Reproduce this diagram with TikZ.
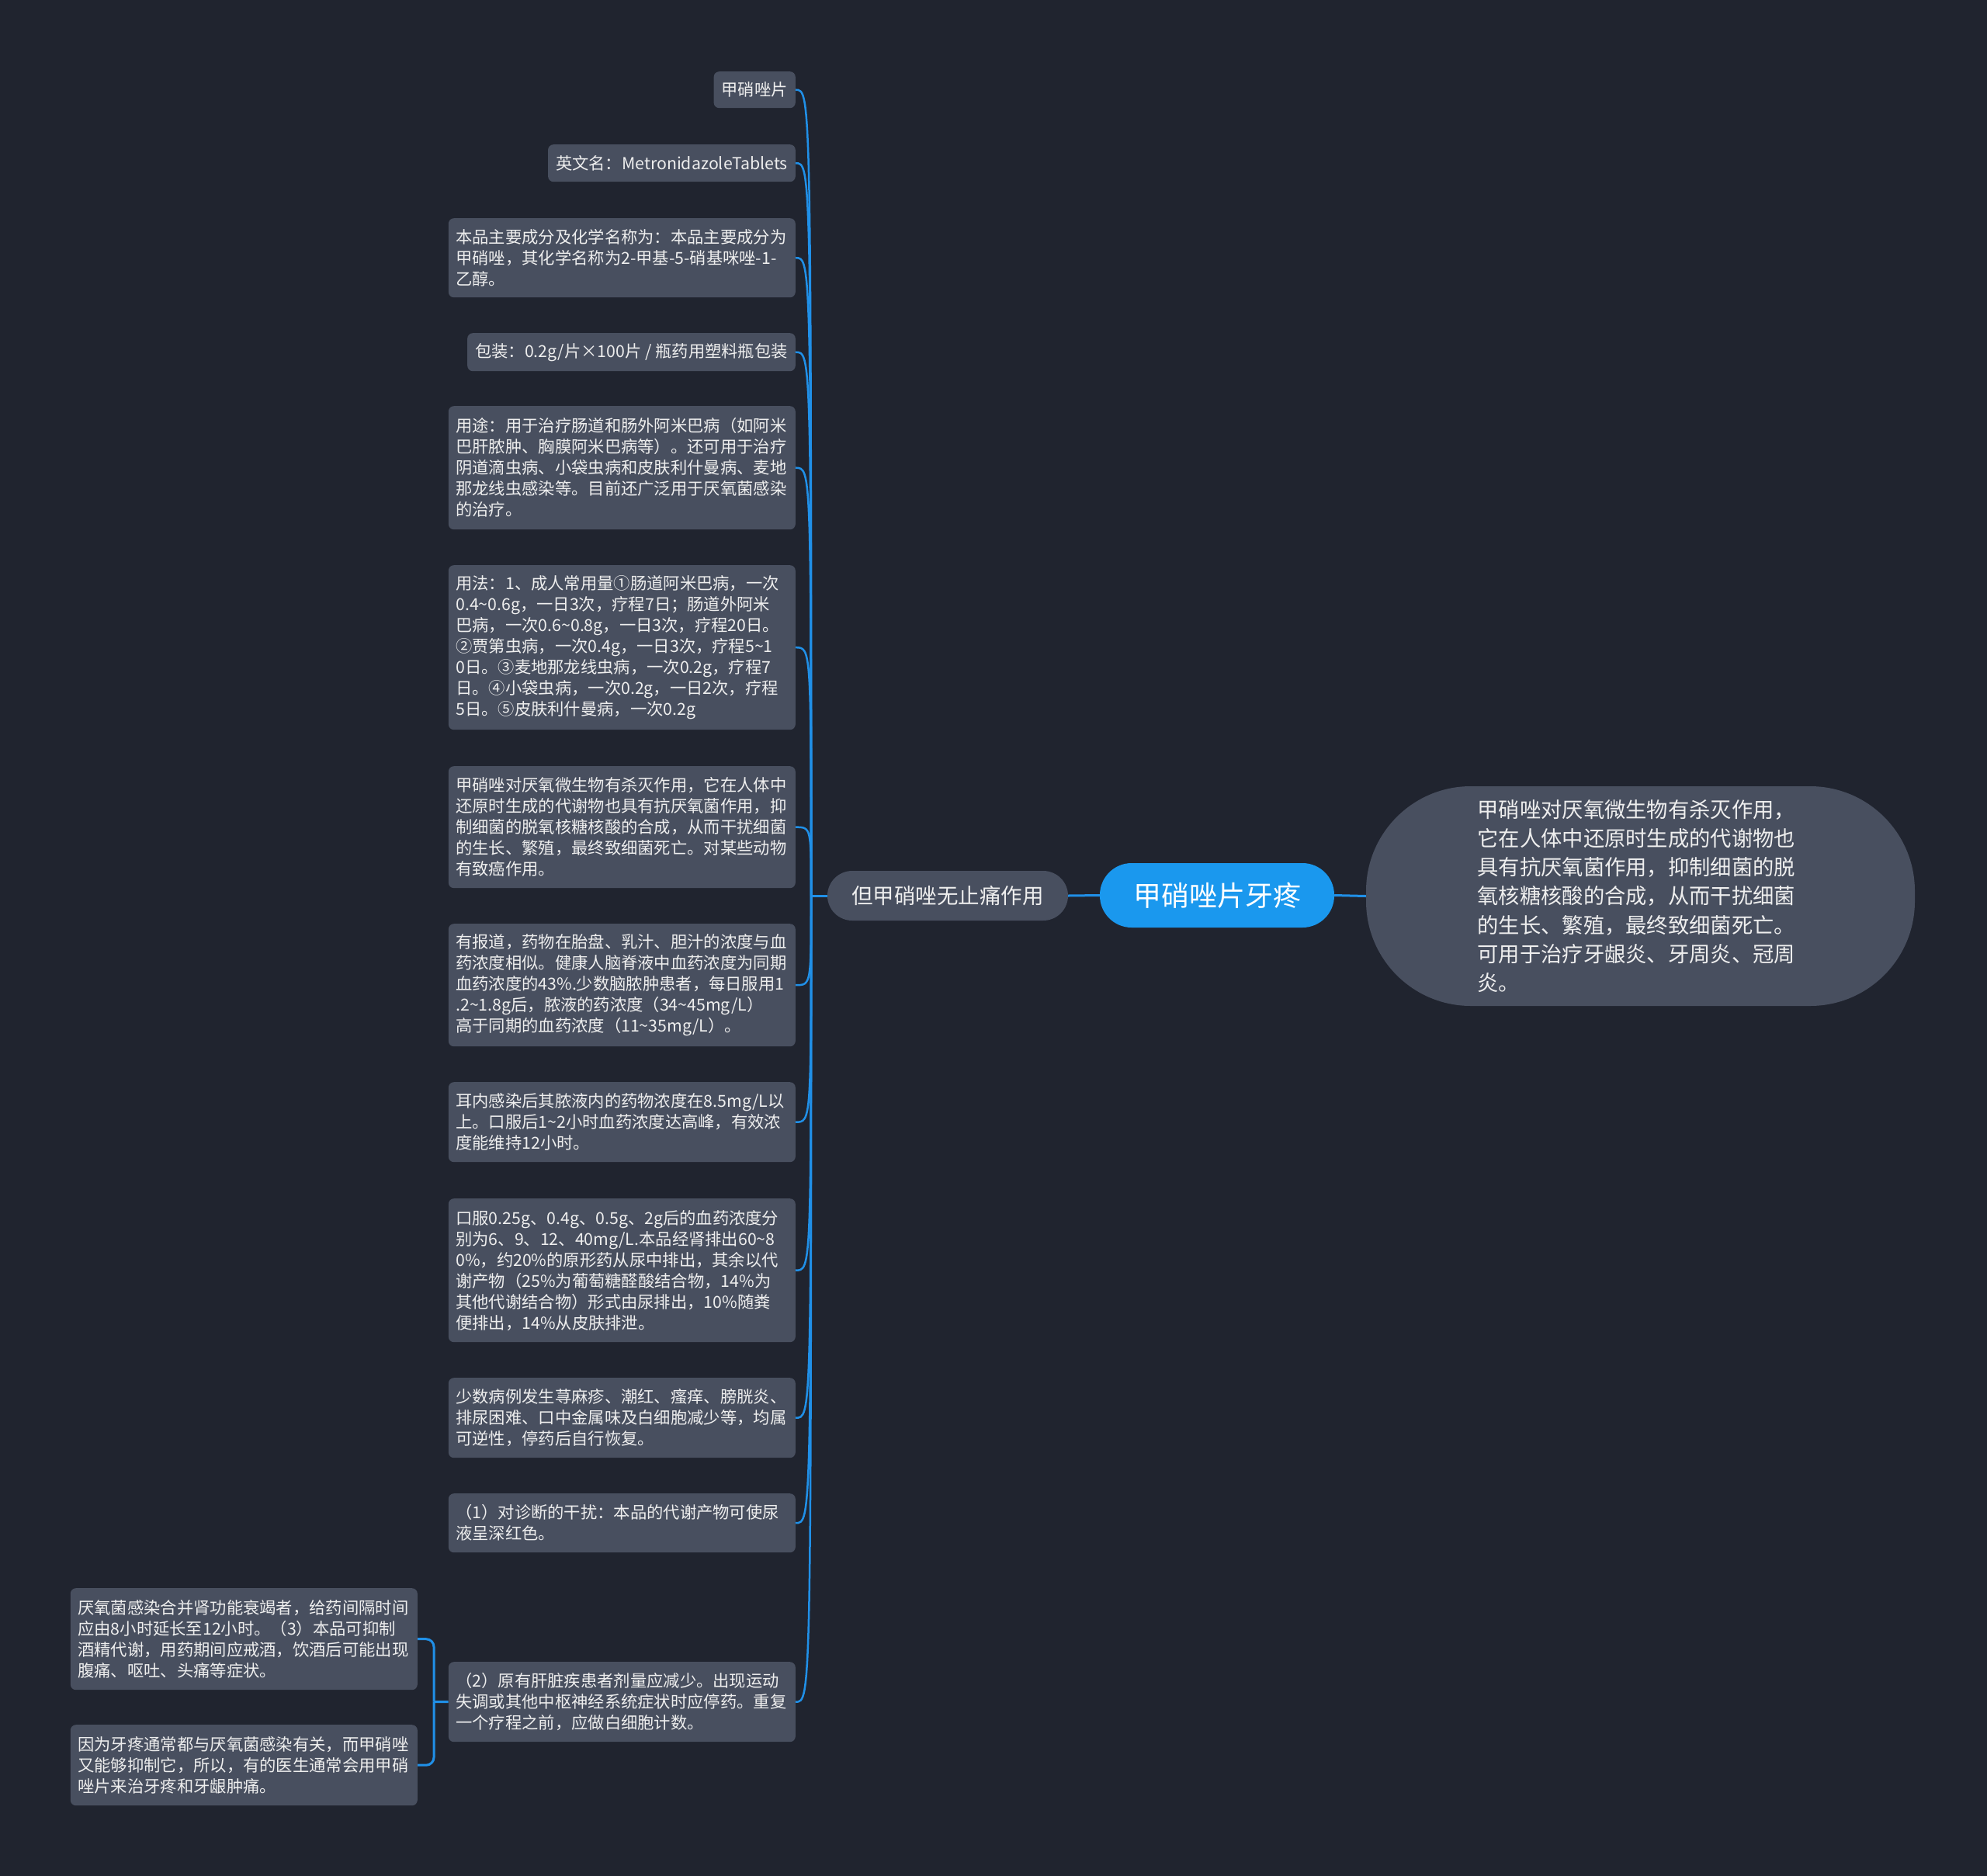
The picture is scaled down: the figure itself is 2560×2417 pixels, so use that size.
\documentclass[tikz,border=0pt]{standalone}
\usepackage{fontspec}
\setmainfont{Noto Sans CJK SC}
\definecolor{bg}{HTML}{20242F}
\definecolor{boxc}{HTML}{484F5F}
\definecolor{rootc}{HTML}{1A98EE}
\definecolor{linec}{HTML}{2090E8}
\definecolor{txt}{HTML}{EEEEEE}
\newcommand{\tld}{\textasciitilde{}}
\tikzset{
  leaf/.style={fill=boxc, rounded corners=7pt, text=txt, font=\fontsize{21.3pt}{27pt}\selectfont, align=left, inner xsep=10pt, inner ysep=0pt, anchor=north east},
  wide/.style={text width=428pt, inner xsep=9.5pt},
  conn/.style={draw=linec, line width=3pt},
  sconn/.style={draw=linec, line width=2.5pt},
}
\begin{document}
\begin{tikzpicture}[x=1pt,y=-1pt]
\fill[bg] (0,0) rectangle (2560,2417);
\useasboundingbox (0,0) rectangle (2560,2417);

\node[fill=rootc, rounded corners=41pt, text=white, font=\fontsize{36pt}{42pt}\selectfont, minimum width=302pt, minimum height=83pt, inner sep=0pt] (root) at (1568,1153.5) {甲硝唑片牙疼};
\node[fill=boxc, rounded corners=32pt, text=txt, font=\fontsize{27.5pt}{33pt}\selectfont, minimum width=310pt, minimum height=64pt, inner sep=0pt] (mid) at (1221,1154) {但甲硝唑无止痛作用};
\node[fill=boxc, rounded corners=135pt, text=txt, font=\fontsize{27.3pt}{37.3pt}\selectfont, text width=420pt, align=left, minimum width=707pt, minimum height=283pt, inner sep=0pt] (big) at (2113.5,1154.5) {甲硝唑对厌氧微生物有杀灭作用，\\它在人体中还原时生成的代谢物也\\具有抗厌氧菌作用，抑制细菌的脱\\氧核糖核酸的合成，从而干扰细菌\\的生长、繁殖，最终致细菌死亡。\\可用于治疗牙龈炎、牙周炎、冠周\\炎。};

\node[leaf, minimum height=47pt] (n1) at (1025,92) {甲硝唑片};
\node[leaf, minimum height=48pt] (n2) at (1025,186) {英文名：MetronidazoleTablets};
\node[leaf, wide, minimum height=102pt] (n3) at (1025,281) {本品主要成分及化学名称为：本品主要成分为\\甲硝唑，其化学名称为2-甲基-5-硝基咪唑-1-\\乙醇。};
\node[leaf, minimum height=49pt] (n4) at (1025,429) {包装：0.2g/片×100片 / 瓶药用塑料瓶包装};
\node[leaf, wide, minimum height=159pt] (n5) at (1025,523) {用途：用于治疗肠道和肠外阿米巴病（如阿米\\巴肝脓肿、胸膜阿米巴病等）。还可用于治疗\\阴道滴虫病、小袋虫病和皮肤利什曼病、麦地\\那龙线虫感染等。目前还广泛用于厌氧菌感染\\的治疗。};
\node[leaf, wide, minimum height=212pt] (n6) at (1025,728) {用法：1、成人常用量①肠道阿米巴病，一次\\0.4\tld 0.6g，一日3次，疗程7日；肠道外阿米\\巴病，一次0.6\tld 0.8g，一日3次，疗程20日。\\②贾第虫病，一次0.4g，一日3次，疗程5\tld 1\\0日。③麦地那龙线虫病，一次0.2g，疗程7\\日。④小袋虫病，一次0.2g，一日2次，疗程\\5日。⑤皮肤利什曼病，一次0.2g};
\node[leaf, wide, minimum height=157pt] (n7) at (1025,987) {甲硝唑对厌氧微生物有杀灭作用，它在人体中\\还原时生成的代谢物也具有抗厌氧菌作用，抑\\制细菌的脱氧核糖核酸的合成，从而干扰细菌\\的生长、繁殖，最终致细菌死亡。对某些动物\\有致癌作用。};
\node[leaf, wide, minimum height=158pt] (n8) at (1025,1190) {有报道，药物在胎盘、乳汁、胆汁的浓度与血\\药浓度相似。健康人脑脊液中血药浓度为同期\\血药浓度的43\%.少数脑脓肿患者，每日服用1\\.2\tld 1.8g后，脓液的药浓度（34\tld 45mg/L）\\高于同期的血药浓度（11\tld 35mg/L）。};
\node[leaf, wide, minimum height=103pt] (n9) at (1025,1394) {耳内感染后其脓液内的药物浓度在8.5mg/L以\\上。口服后1\tld 2小时血药浓度达高峰，有效浓\\度能维持12小时。};
\node[leaf, wide, minimum height=185pt] (n10) at (1025,1544) {口服0.25g、0.4g、0.5g、2g后的血药浓度分\\别为6、9、12、40mg/L.本品经肾排出60\tld 8\\0\%，约20\%的原形药从尿中排出，其余以代\\谢产物（25\%为葡萄糖醛酸结合物，14\%为\\其他代谢结合物）形式由尿排出，10\%随粪\\便排出，14\%从皮肤排泄。};
\node[leaf, wide, minimum height=103pt] (n11) at (1025,1775) {少数病例发生荨麻疹、潮红、瘙痒、膀胱炎、\\排尿困难、口中金属味及白细胞减少等，均属\\可逆性，停药后自行恢复。};
\node[leaf, wide, minimum height=76pt] (n12) at (1025,1924) {（1）对诊断的干扰：本品的代谢产物可使尿\\液呈深红色。};
\node[leaf, wide, minimum height=103pt] (n13) at (1025,2141) {（2）原有肝脏疾患者剂量应减少。出现运动\\失调或其他中枢神经系统症状时应停药。重复\\一个疗程之前，应做白细胞计数。};
\node[leaf, wide, minimum height=131pt] (n14) at (538,2046) {厌氧菌感染合并肾功能衰竭者，给药间隔时间\\应由8小时延长至12小时。（3）本品可抑制\\酒精代谢，用药期间应戒酒，饮酒后可能出现\\腹痛、呕吐、头痛等症状。};
\node[leaf, wide, minimum height=104pt] (n15) at (538,2222) {因为牙疼通常都与厌氧菌感染有关，而甲硝唑\\又能够抑制它，所以，有的医生通常会用甲硝\\唑片来治牙疼和牙龈肿痛。};

\coordinate (sp) at (1045,1154);
\coordinate (sp2) at (559,2192.5);
\draw[conn] (root.east) -- (big.west);
\draw[conn] (root.west) -- (mid.east);
\draw[conn] (mid.west) -- (sp);
\foreach \n in {n1,n2,n3,n4,n5,n6,n7,n8,n9,n10,n11,n12,n13}
  \draw[sconn] (sp) .. controls (sp |- \n.east) .. (\n.east);
\draw[conn] (n13.west) -- (sp2);
\draw[conn, rounded corners=10pt] (sp2) |- (n14.east);
\draw[conn, rounded corners=10pt] (sp2) |- (n15.east);
\end{tikzpicture}
\end{document}
